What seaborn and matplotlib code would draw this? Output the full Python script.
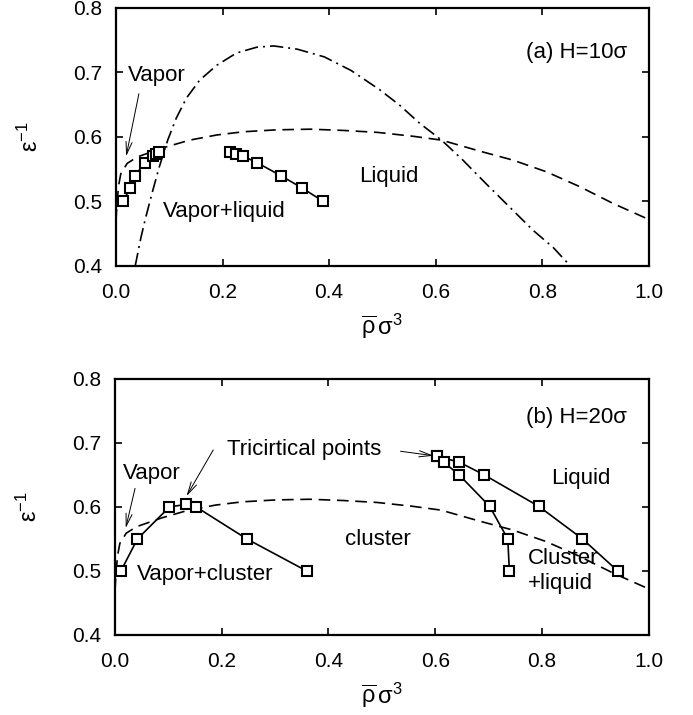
import numpy as np
import pandas as pd
import matplotlib
matplotlib.use("Agg")
import matplotlib.pyplot as plt
import seaborn as sns

# ---------------- data ----------------
# dashed curve (same in both panels)
dash_x = [0.000, 0.002, 0.005, 0.009, 0.021, 0.040, 0.088, 0.138, 0.189, 0.239, 0.302, 0.365,
          0.428, 0.491, 0.5575, 0.611, 0.6825, 0.745, 0.8075, 0.870, 0.9325, 1.000]
dash_y = [0.470, 0.500, 0.525, 0.543, 0.559, 0.569, 0.583, 0.595, 0.603, 0.608, 0.611, 0.612,
          0.610, 0.607, 0.601, 0.595, 0.578, 0.564, 0.546, 0.523, 0.497, 0.472]

# dash-dot curve (panel a)
dd_x = [0.036, 0.047, 0.056, 0.069, 0.081, 0.097, 0.113, 0.132, 0.157, 0.189, 0.226, 0.264,
        0.296, 0.340, 0.391, 0.441, 0.495, 0.5325, 0.570, 0.611, 0.651, 0.695, 0.739,
        0.783, 0.820, 0.8525]
dd_y = [0.400, 0.445, 0.476, 0.517, 0.553, 0.595, 0.629, 0.660, 0.688, 0.711, 0.730, 0.739,
        0.741, 0.736, 0.724, 0.703, 0.673, 0.649, 0.621, 0.595, 0.564, 0.527, 0.491,
        0.455, 0.429, 0.400]

# panel a: simulation points
a_vap_x = [0.014, 0.026, 0.035, 0.055, 0.070, 0.075, 0.080]
a_vap_y = [0.500, 0.521, 0.540, 0.560, 0.571, 0.574, 0.577]
a_liq_x = [0.213, 0.225, 0.239, 0.265, 0.309, 0.349, 0.389]
a_liq_y = [0.577, 0.573, 0.570, 0.560, 0.540, 0.521, 0.500]

# panel b: simulation points
b_vap_x = [0.011, 0.042, 0.102, 0.133, 0.152, 0.247, 0.359]
b_vap_y = [0.500, 0.550, 0.600, 0.604, 0.600, 0.550, 0.500]
b_liq_x = [0.604, 0.645, 0.692, 0.794, 0.876, 0.942]
b_liq_y = [0.679, 0.670, 0.650, 0.601, 0.550, 0.500]
b_cl_x = [0.604, 0.616, 0.645, 0.702, 0.736, 0.739]
b_cl_y = [0.679, 0.670, 0.650, 0.601, 0.550, 0.500]

xticks = [0.0, 0.2, 0.4, 0.6, 0.8, 1.0]
yticks = [0.4, 0.5, 0.6, 0.7, 0.8]

# ---------------- style ----------------
sns.set_style("ticks")
plt.rcParams['font.family'] = ['Liberation Sans', 'DejaVu Sans']
plt.rcParams['mathtext.fontset'] = 'custom'
plt.rcParams['mathtext.rm'] = 'Liberation Sans'
plt.rcParams['mathtext.it'] = 'Liberation Sans:italic'
plt.rcParams['mathtext.default'] = 'regular'
plt.rcParams['text.color'] = 'black'
plt.rcParams['axes.labelcolor'] = 'black'
plt.rcParams['xtick.color'] = 'black'
plt.rcParams['ytick.color'] = 'black'

FS = 16
fig = plt.figure(figsize=(6.93, 7.15), dpi=100)
axA = fig.add_axes([0.1674, 0.628, 0.769, 0.361])
axB = fig.add_axes([0.1660, 0.112, 0.770, 0.358])

arrow_kw = dict(arrowstyle='->,head_length=0.9,head_width=0.22', lw=0.7, color='black',
                shrinkA=0, shrinkB=0)


def draw_curve(ax, x, y, ls, dashes):
    df = pd.DataFrame({'x': x, 'y': y})
    sns.lineplot(data=df, x='x', y='y', ax=ax, sort=False, estimator=None,
                 color='black', lw=1.2, linestyle=ls)
    ax.lines[-1].set_dashes(dashes)


def draw_points(ax, x, y):
    df = pd.DataFrame({'x': x, 'y': y})
    sns.lineplot(data=df, x='x', y='y', ax=ax, sort=False, estimator=None,
                 color='black', lw=1.2, marker='s', markersize=7.5,
                 markerfacecolor='white', markeredgecolor='black', markeredgewidth=1.5)


def style_axes(ax):
    ax.set_xlim(0, 1.0)
    ax.set_ylim(0.4, 0.8)
    ax.set_xticks(xticks)
    ax.set_yticks(yticks)
    ax.set_xticklabels([f"{v:.1f}" for v in xticks])
    ax.set_yticklabels([f"{v:.1f}" for v in yticks])
    ax.tick_params(direction='in', length=5, width=1.2, top=True, right=True,
                   labelsize=15)
    ax.tick_params(axis='x', pad=12)
    ax.tick_params(axis='y', pad=10)
    for s in ax.spines.values():
        s.set_linewidth(1.6)
        s.set_color('black')
    ax.set_xlabel(r'$\overline{\rho}\,\sigma^{3}$', fontsize=17)
    ax.set_ylabel(r'$\varepsilon^{-1}$', fontsize=17)
    ax.xaxis.set_label_coords(0.5, -0.235)
    ax.xaxis.label.set_va('center')
    ax.yaxis.set_label_coords(-0.161, 0.5)
    ax.yaxis.label.set_va('center')


# ---- panel a ----
draw_curve(axA, dash_x, dash_y, '--', (7, 4))
draw_curve(axA, dd_x, dd_y, '-.', (8, 3, 1.2, 3))
draw_points(axA, a_vap_x, a_vap_y)
draw_points(axA, a_liq_x, a_liq_y)
style_axes(axA)
axA.text(0.96, 0.731, '(a) H=10σ', fontsize=FS, ha='right', va='center')
axA.text(0.023, 0.695, 'Vapor', fontsize=FS, ha='left', va='center')
axA.annotate('', xy=(0.019, 0.57), xytext=(0.043, 0.667), arrowprops=arrow_kw)
axA.text(0.088, 0.484, 'Vapor+liquid', fontsize=FS, ha='left', va='center')
axA.text(0.511, 0.538, 'Liquid', fontsize=FS, ha='center', va='center')

# ---- panel b ----
draw_curve(axB, dash_x, dash_y, '--', (7, 4))
draw_points(axB, b_vap_x, b_vap_y)
draw_points(axB, b_liq_x, b_liq_y)
draw_points(axB, b_cl_x, b_cl_y)
style_axes(axB)
axB.text(0.96, 0.739, '(b) H=20σ', fontsize=FS, ha='right', va='center')
axB.text(0.015, 0.653, 'Vapor', fontsize=FS, ha='left', va='center')
axB.annotate('', xy=(0.020, 0.567), xytext=(0.0375, 0.629), arrowprops=arrow_kw)
axB.text(0.21, 0.689, 'Tricirtical points', fontsize=FS, ha='left', va='center')
axB.annotate('', xy=(0.134, 0.617), xytext=(0.184, 0.689), arrowprops=arrow_kw)
axB.annotate('', xy=(0.597, 0.680), xytext=(0.535, 0.687), arrowprops=arrow_kw)
axB.text(0.492, 0.549, 'cluster', fontsize=FS, ha='center', va='center')
axB.text(0.041, 0.494, 'Vapor+cluster', fontsize=FS, ha='left', va='center')
axB.text(0.873, 0.645, 'Liquid', fontsize=FS, ha='center', va='center')
axB.text(0.773, 0.520, 'Cluster', fontsize=FS, ha='left', va='center')
axB.text(0.773, 0.481, '+liquid', fontsize=FS, ha='left', va='center')

fig.savefig('out.png', dpi=100)
